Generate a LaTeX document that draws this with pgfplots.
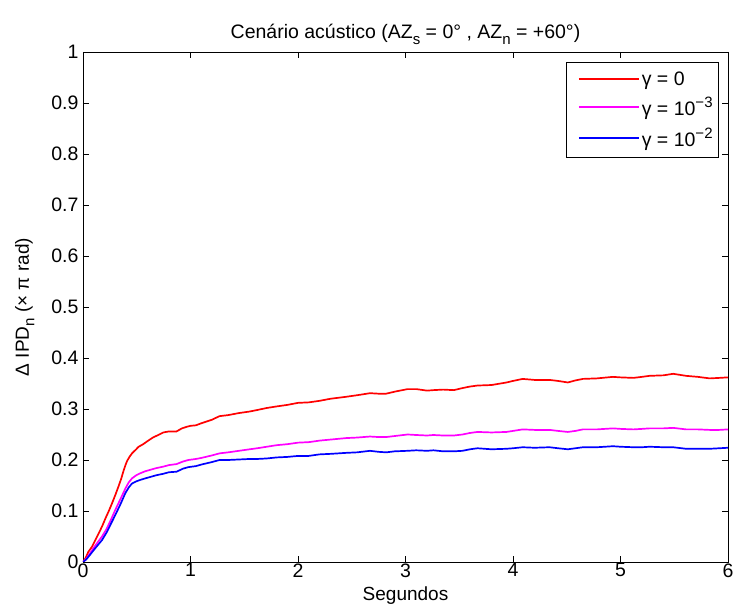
\documentclass[border=0pt]{standalone}
\usepackage{fontspec}
\setmainfont{Liberation Sans}
\usepackage{pgfplots}
\pgfplotsset{compat=1.18}
\definecolor{mred}{RGB}{255,0,0}
\definecolor{mmag}{RGB}{255,0,255}
\definecolor{mblue}{RGB}{0,0,255}
\newcommand{\sub}[1]{\raisebox{-0.55ex}{\fontsize{15}{15}\selectfont #1}}
\newcommand{\sups}[1]{\raisebox{0.75ex}{\fontsize{15}{15}\selectfont #1}}
\begin{document}
\begin{tikzpicture}
\useasboundingbox (-83pt,-50pt) rectangle (651pt,562pt);
\begin{axis}[
  at={(0,0)}, anchor=south west,
  scale only axis, width=645pt, height=510pt,
  xmin=0, xmax=6, ymin=0, ymax=1,
  xtick={0,1,2,3,4,5,6},
  ytick={0,0.1,0.2,0.3,0.4,0.5,0.6,0.7,0.8,0.9,1},
  yticklabels={0,0.1,0.2,0.3,0.4,0.5,0.6,0.7,0.8,0.9,1},
  xticklabels={0,1,2,3,4,5,6},
  tick align=inside, xtick pos=both, ytick pos=both,
  major tick length=6pt,
  tick style={black, line width=0.6pt},
  axis line style={black, line width=0.8pt},
  ticklabel style={font=\fontsize{19.5}{22}\selectfont},
  xticklabel style={yshift=2pt},
  yticklabel style={xshift=-1pt},
  label style={font=\fontsize{19}{22}\selectfont},
  xlabel={Segundos},
  xlabel style={yshift=-3pt},
  ylabel={Δ IPD\sub{n} (× π rad)},
  ylabel style={yshift=10pt},
  title={Cenário acústico (AZ\sub{s} = 0° , AZ\sub{n} = +60°)},
  title style={font=\fontsize{19.5}{22}\selectfont, yshift=-2pt},
  legend style={at={(1,1)}, anchor=north east, xshift=-9pt, yshift=-10pt,
    draw=black, line width=0.8pt, font=\fontsize{19.5}{22}\selectfont,
    inner xsep=4pt, inner ysep=7pt, row sep=7pt, cells={anchor=west}},
  legend image code/.code={\path (-8pt,0pt); \draw[#1, line width=2pt] (0pt,0.3pt) -- (60pt,0.3pt);},
  legend cell align=left,
]
\addplot[mred, line width=1.7pt] coordinates {
(0,0) (0.022,0.007) (0.05,0.02) (0.084,0.03) (0.115,0.043) (0.146,0.056) (0.18,0.071) (0.21,0.086) (0.24,0.1) (0.27,0.115) (0.3,0.131) (0.33,0.148) (0.355,0.163) (0.379,0.18) (0.395,0.19) (0.41,0.198) (0.432,0.206) (0.456,0.213) (0.49,0.22) (0.518,0.226) (0.56,0.231) (0.6,0.237) (0.65,0.244) (0.7,0.249) (0.747,0.254) (0.8,0.256) (0.87,0.256) (0.92,0.262) (0.964,0.265) (1.0,0.267) (1.05,0.268) (1.1,0.272) (1.2,0.279) (1.27,0.286) (1.35,0.288) (1.45,0.292) (1.55,0.295) (1.62,0.298) (1.71,0.302) (1.8,0.305) (1.9,0.308) (2.0,0.312) (2.1,0.313) (2.2,0.316) (2.3,0.320) (2.45,0.324) (2.55,0.327) (2.67,0.331) (2.75,0.330) (2.82,0.330) (2.9,0.334) (3.02,0.339) (3.1,0.339) (3.2,0.336) (3.26,0.337) (3.35,0.338) (3.45,0.337) (3.53,0.341) (3.6,0.344) (3.67,0.346) (3.8,0.347) (3.94,0.352) (4.0,0.355) (4.09,0.359) (4.2,0.357) (4.34,0.357) (4.42,0.355) (4.51,0.352) (4.58,0.356) (4.65,0.359) (4.78,0.360) (4.93,0.363) (5.0,0.362) (5.12,0.361) (5.2,0.363) (5.27,0.365) (5.4,0.366) (5.49,0.369) (5.61,0.365) (5.72,0.363) (5.83,0.360) (5.92,0.361) (6.0,0.362)
};
\addlegendentry{γ = 0}
\addplot[mmag, line width=1.7pt] coordinates {
(0,0) (0.03,0.006) (0.065,0.017) (0.11,0.031) (0.177,0.05) (0.22,0.065) (0.26,0.083) (0.3,0.102) (0.35,0.124) (0.394,0.144) (0.425,0.156) (0.456,0.164) (0.495,0.170) (0.533,0.174) (0.58,0.178) (0.63,0.181) (0.68,0.184) (0.747,0.187) (0.8,0.190) (0.87,0.192) (0.93,0.197) (0.98,0.2) (1.05,0.202) (1.1,0.204) (1.2,0.209) (1.27,0.213) (1.35,0.215) (1.45,0.218) (1.55,0.221) (1.62,0.223) (1.71,0.226) (1.8,0.229) (1.9,0.231) (2.0,0.234) (2.1,0.235) (2.2,0.238) (2.3,0.240) (2.45,0.243) (2.55,0.244) (2.67,0.246) (2.75,0.245) (2.82,0.245) (2.9,0.247) (3.02,0.250) (3.1,0.249) (3.2,0.248) (3.26,0.249) (3.35,0.248) (3.45,0.248) (3.53,0.250) (3.6,0.253) (3.67,0.255) (3.8,0.254) (3.94,0.255) (4.0,0.257) (4.09,0.260) (4.2,0.259) (4.34,0.259) (4.42,0.257) (4.51,0.255) (4.58,0.257) (4.65,0.260) (4.78,0.260) (4.93,0.262) (5.0,0.261) (5.12,0.260) (5.2,0.261) (5.27,0.262) (5.4,0.262) (5.49,0.263) (5.61,0.260) (5.72,0.260) (5.83,0.259) (5.92,0.259) (6.0,0.260)
};
\addlegendentry{γ = 10\sups{−3}}
\addplot[mblue, line width=1.7pt] coordinates {
(0,0) (0.03,0.005) (0.065,0.014) (0.11,0.026) (0.177,0.043) (0.22,0.058) (0.26,0.075) (0.3,0.092) (0.35,0.114) (0.394,0.135) (0.425,0.146) (0.456,0.154) (0.495,0.158) (0.533,0.161) (0.58,0.164) (0.63,0.167) (0.68,0.170) (0.747,0.173) (0.8,0.176) (0.87,0.177) (0.93,0.183) (0.98,0.186) (1.05,0.188) (1.1,0.191) (1.2,0.196) (1.27,0.200) (1.35,0.200) (1.45,0.201) (1.55,0.202) (1.62,0.202) (1.71,0.203) (1.8,0.205) (1.9,0.206) (2.0,0.208) (2.1,0.208) (2.2,0.211) (2.3,0.212) (2.45,0.214) (2.55,0.215) (2.67,0.218) (2.75,0.216) (2.82,0.215) (2.9,0.217) (3.02,0.218) (3.1,0.219) (3.2,0.218) (3.26,0.219) (3.35,0.217) (3.45,0.217) (3.53,0.218) (3.6,0.221) (3.67,0.223) (3.8,0.221) (3.94,0.222) (4.0,0.223) (4.09,0.225) (4.2,0.224) (4.34,0.225) (4.42,0.223) (4.51,0.221) (4.58,0.223) (4.65,0.225) (4.78,0.225) (4.93,0.227) (5.0,0.226) (5.12,0.225) (5.2,0.225) (5.27,0.226) (5.4,0.225) (5.49,0.225) (5.61,0.222) (5.72,0.222) (5.83,0.222) (5.92,0.223) (6.0,0.224)
};
\addlegendentry{γ = 10\sups{−2}}
\end{axis}
\end{tikzpicture}
\end{document}
